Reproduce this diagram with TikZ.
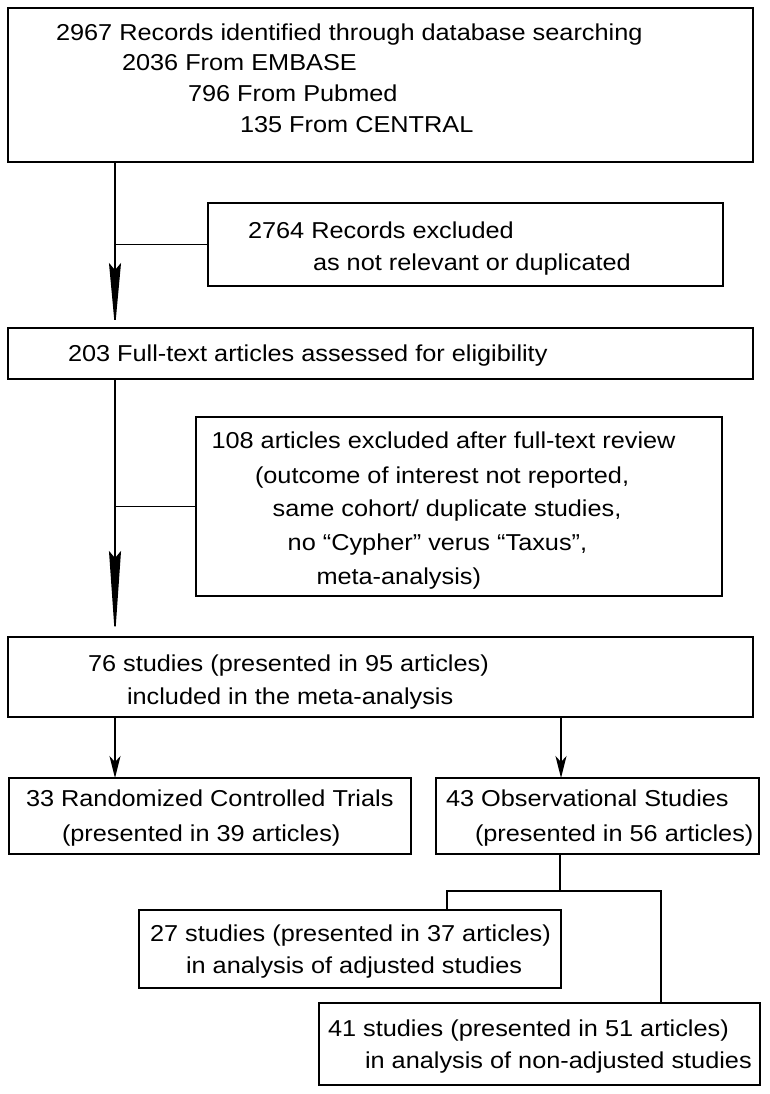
\documentclass[tikz,border=0pt]{standalone}
\usepackage{fontspec}
\setmainfont[FakeStretch=1.1]{Liberation Sans}
\usetikzlibrary{arrows.meta}
\begin{document}
\begin{tikzpicture}[x=1pt,y=-1pt,
  box/.style={draw, line width=2pt, rectangle, inner sep=0pt, outer sep=0pt},
  txt/.style={anchor=base west, inner sep=0pt, outer sep=0pt, font=\fontsize{23}{27}\selectfont},
  conn/.style={line width=1.5pt},
  bigarrow/.style={conn, -{Stealth[length=65pt,width=12pt,inset=7pt]}},
  bigarrowb/.style={conn, -{Stealth[length=86pt,width=12pt,inset=7pt]}},
  smallarrow/.style={conn, -{Stealth[length=22pt,width=11pt,inset=6pt]}}]
\useasboundingbox (0,0) rectangle (770,1094);
% boxes
\node[box, minimum width=745pt, minimum height=154pt] (b1) at (380.5,85) {};
\node[box, minimum width=515pt, minimum height=83pt] (b2) at (465.5,244.5) {};
\node[box, minimum width=745pt, minimum height=51pt] (b3) at (380.5,353.5) {};
\node[box, minimum width=526pt, minimum height=179pt] (b4) at (459,506.5) {};
\node[box, minimum width=745pt, minimum height=80pt] (b5) at (380.5,677) {};
\node[box, minimum width=402pt, minimum height=76pt] (b6) at (210,816) {};
\node[box, minimum width=323pt, minimum height=76pt] (b7) at (597.5,816) {};
\node[box, minimum width=422pt, minimum height=78pt] (b8) at (350,949) {};
\node[box, minimum width=441pt, minimum height=82pt] (b9) at (539.5,1044) {};
% texts
\node[txt] (t1a) at (56,40.7) {2967 Records identified through database searching};
\node[txt] (t1b) at (122,70.7) {2036 From EMBASE};
\node[txt] (t1c) at (188,101.7) {796 From Pubmed};
\node[txt] (t1d) at (240,132.7) {135 From CENTRAL};
\node[txt] (t2a) at (248,238) {2764 Records excluded};
\node[txt] (t2b) at (313,270) {as not relevant or duplicated};
\node[txt] (t3) at (68,361) {203 Full-text articles assessed for eligibility};
\node[txt] (t4a) at (211.5,448) {108 articles excluded after full-text review};
\node[txt] (t4b) at (255,483) {(outcome of interest not reported,};
\node[txt] (t4c) at (272.6,516) {same cohort/ duplicate studies,};
\node[txt] (t4d) at (287.7,550) {no “Cypher” verus “Taxus”,};
\node[txt] (t4e) at (316.5,584) {meta-analysis)};
\node[txt] (t5a) at (88,671) {76 studies (presented in 95 articles)};
\node[txt] (t5b) at (127,704) {included in the meta-analysis};
\node[txt] (t6a) at (26,806) {33 Randomized Controlled Trials};
\node[txt] (t6b) at (62,841) {(presented in 39 articles)};
\node[txt] (t7a) at (446,806) {43 Observational Studies};
\node[txt] (t7b) at (475,841) {(presented in 56 articles)};
\node[txt] (t8a) at (150,941) {27 studies (presented in 37 articles)};
\node[txt] (t8b) at (186,973) {in analysis of adjusted studies};
\node[txt] (t9a) at (328,1036) {41 studies (presented in 51 articles)};
\node[txt] (t9b) at (365,1068) {in analysis of non-adjusted studies};
% connector coordinates
\coordinate (spine) at (115,0);
\coordinate (obs) at (561,0);
\coordinate (js) at (560,891);
\coordinate (jl) at (447,891);
\coordinate (jr) at (661,891);
% connectors
\draw[bigarrow] (b1.south -| spine) -- (b3.north -| spine);
\draw[conn] (b2.west) -- (b2.west -| spine);
\draw[bigarrowb] (b3.south -| spine) -- (b5.north -| spine);
\draw[conn] (b4.west) -- (b4.west -| spine);
\draw[smallarrow] (b5.south -| spine) -- (b6.north -| spine);
\draw[smallarrow] (b5.south -| obs) -- (b7.north -| obs);
\draw[conn] (b7.south -| js) -- (js);
\draw[conn] (b8.north -| jl) -- (jl) -- (jr) -- (b9.north -| jr);
\end{tikzpicture}
\end{document}
